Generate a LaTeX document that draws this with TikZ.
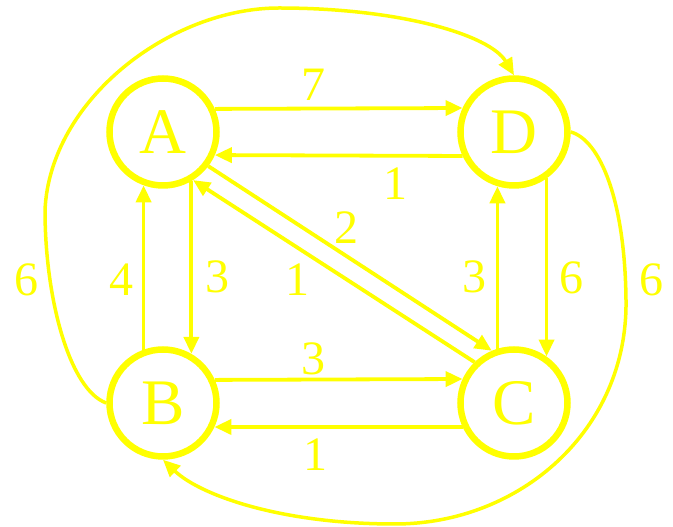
\documentclass[tikz,border=0pt]{standalone}
\usepackage{fontspec}
\setmainfont{Liberation Serif}
\usetikzlibrary{arrows.meta}
\definecolor{yel}{RGB}{255,255,0}
\begin{document}
\begin{tikzpicture}[x=1pt,y=1pt,
  state/.style={circle,draw=yel,line width=6.5pt,minimum size=107pt,inner sep=0pt,text=yel,font=\fontsize{65}{65}\selectfont},
  edge/.style={draw=yel,line width=3.8pt,-{Triangle[length=17pt,width=15pt]}},
  curv/.style={draw=yel,line width=3.5pt,-{Triangle[length=17pt,width=15pt]}},
  wlabel/.style={text=yel,inner sep=0pt,font=\fontsize{48}{48}\selectfont}]
\useasboundingbox (0,0) rectangle (673,527);
\node[state] (A) at (163,395) {A};
\node[state] (D) at (514,395) {D};
\node[state] (B) at (163,124) {B};
\node[state] (C) at (514,124) {C};
% horizontal edges
\draw[edge] (A.24.9) -- (D.155.1);
\draw[edge] (D.-155.1) -- (A.-24.9);
\draw[edge] (B.24.5) -- (C.155.5);
\draw[edge] (C.-155) -- (B.-25);
% vertical edges
\draw[edge] (A.-60.6) -- (B.60.6);
\draw[edge] (B.110.5) -- (A.-110.5);
\draw[edge] (C.107.4) -- (D.-107.4);
\draw[edge] (D.-55.9) -- (C.55.9);
% diagonals
\draw[edge] (A.-37.5) -- (C.113.6);
\draw[edge] (C.134.2) -- (A.-58);
% outer curves
\draw[curv] (B.180) .. controls (70,137) and (45,227) .. (45,317)
  .. controls (50,427) and (170,519) .. (279,519)
  .. controls (400,519) and (490,492) .. (D.north);
\draw[curv] (D.east) .. controls (600,387) and (625,327) .. (626,227)
  .. controls (628,97) and (520,3) .. (395,3)
  .. controls (280,3) and (200,32) .. (B.south);
% labels
\node[wlabel] (lAD) at (313,442) {7};
\node[wlabel] (lDA) at (395,343) {1};
\node[wlabel] (lAC) at (346,299) {2};
\node[wlabel] (lCA) at (297,247) {1};
\node[wlabel] (lBD) at (27,247) {6};
\node[wlabel] (lBA) at (121,247) {4};
\node[wlabel] (lAB) at (217,250) {3};
\node[wlabel] (lCD) at (474,250) {3};
\node[wlabel] (lDC) at (571,249) {6};
\node[wlabel] (lDB) at (651,247) {6};
\node[wlabel] (lBC) at (313,168) {3};
\node[wlabel] (lCB) at (315,72) {1};
\end{tikzpicture}
\end{document}
